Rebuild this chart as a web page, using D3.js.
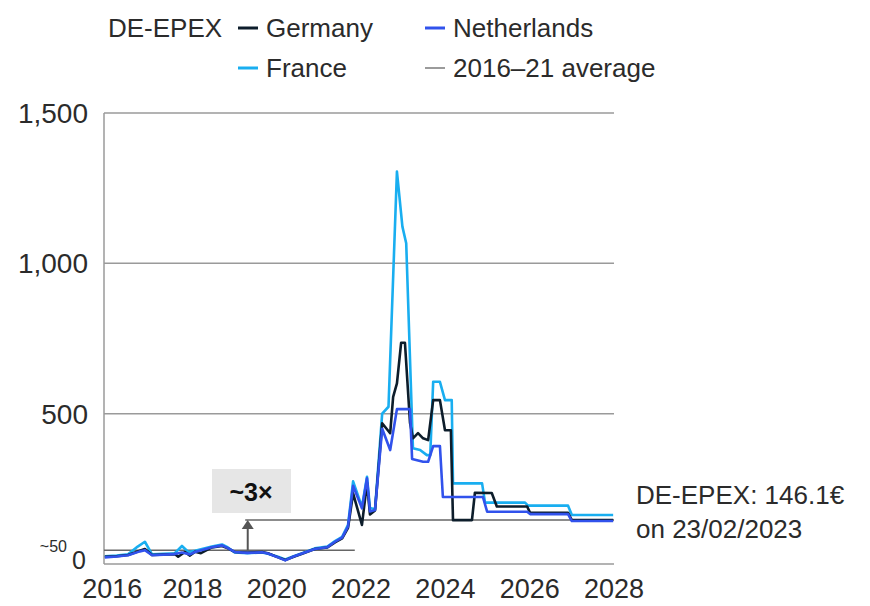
<!DOCTYPE html>
<html lang="en">
  <head>
    <meta charset="utf-8">
    <title>DE-EPEX prices</title>
    <script src="https://cdn.jsdelivr.net/npm/d3@7"></script>
    <style>
      body{ margin:0; background:#fff; }
      text{ font-family:"Liberation Sans", Arial, sans-serif; fill:#2b2b2b; }
    </style>
  </head>
  <body>
    <div id="chart"></div>
    <script type="text/javascript">
      // [year, €/MWh]
      var germany = [
        [2015.92,24],[2016.2,26],[2016.47,30],[2016.75,44],[2016.87,50],[2017.04,30],[2017.58,33],[2017.66,24],
        [2017.82,40],[2017.94,28],[2018.06,41],[2018.2,36],[2018.46,55],[2018.7,60],[2018.84,52],
        [2019.0,40],[2019.3,38],[2019.65,40],[2019.79,36],[2020.03,22],[2020.2,13],[2020.4,24],[2020.6,34],[2020.9,50],
        [2021.2,55],[2021.38,72],[2021.55,85],[2021.69,120],[2021.81,235],[2022.02,130],[2022.14,270],
        [2022.21,165],[2022.33,178],[2022.5,468],[2022.69,435],[2022.76,556],[2022.85,601],[2022.95,736],
        [2023.04,736],[2023.16,470],[2023.23,418],[2023.35,435],[2023.47,418],[2023.59,412],[2023.71,545],
        [2023.87,545],[2023.99,445],[2024.13,445],[2024.18,146],[2024.63,146],[2024.7,237],[2025.1,236],
        [2025.22,191],[2025.94,191],[2026.01,170],[2026.91,170],[2027.0,146],[2027.98,146]
      ]
      var france = [
        [2015.92,26],[2016.2,28],[2016.47,32],[2016.7,58],[2016.87,74],[2017.04,32],[2017.58,36],[2017.75,60],
        [2017.9,40],[2018.06,44],[2018.46,58],[2018.7,65],[2018.84,55],[2019.0,38],[2019.3,36],[2019.65,38],
        [2019.79,34],[2020.03,24],[2020.2,15],[2020.4,26],[2020.6,36],[2020.9,52],[2021.2,58],[2021.38,76],
        [2021.55,90],[2021.69,130],[2021.81,275],[2022.02,190],[2022.14,290],[2022.21,186],[2022.33,182],
        [2022.5,500],[2022.65,523],[2022.85,1305],[2022.98,1122],[2023.07,1067],[2023.23,385],
        [2023.4,379],[2023.56,362],[2023.64,362],[2023.71,606],[2023.87,606],[2023.99,545],[2024.15,545],
        [2024.18,268],[2024.87,268],[2024.94,204],[2025.89,204],[2025.96,194],[2026.91,194],[2027.0,163],
        [2027.98,163]
      ]
      var netherlands = [
        [2015.92,22],[2016.2,25],[2016.47,29],[2016.75,42],[2016.87,46],[2017.04,29],[2017.58,33],[2017.75,38],
        [2017.94,32],[2018.06,40],[2018.46,56],[2018.7,62],[2018.84,53],[2019.0,40],[2019.3,37],[2019.65,39],
        [2019.79,35],[2020.03,22],[2020.2,12],[2020.4,25],[2020.6,35],[2020.9,50],[2021.2,56],[2021.38,74],
        [2021.55,88],[2021.69,125],[2021.81,260],[2022.02,185],[2022.14,285],[2022.21,175],[2022.33,180],
        [2022.5,450],[2022.69,379],[2022.85,515],[2023.16,515],[2023.21,349],[2023.47,340],[2023.59,340],
        [2023.71,392],[2023.87,392],[2023.94,223],[2024.89,223],[2024.99,174],[2025.94,174],[2026.01,166],
        [2026.91,166],[2027.0,143],[2027.98,143]
      ]
      var average = 46
      var current = 146.1
      var xTicks = [2016,2018,2020,2022,2024,2026,2028]
      var yTicks = [0,500,1000,1500]
      var yTickLabels = ["0","500","1,000","1,500"]

      var colors = {germany:"#0d1d2b", france:"#19aef0", netherlands:"#3152ec", avg:"#7a7a7a"}

      var width = 870, height = 606
      var svg = d3.select("#chart").append("svg").attr("width",width).attr("height",height)

      var x = d3.scaleLinear().domain([2015.9,2028]).range([104,614])
      var y = d3.scaleLinear().domain([0,1500]).range([564,113])

      // gridlines + frame
      svg.selectAll(".grid")
        .data(yTicks)
        .enter()
        .append("line")
        .attr("x1",x(2015.9)).attr("x2",x(2028))
        .attr("y1",function(d){ return y(d) }).attr("y2",function(d){ return y(d) })
        .attr("stroke","#9a9a9a").attr("stroke-width",1.5)
      svg.append("line")
        .attr("x1",x(2015.9)).attr("x2",x(2015.9))
        .attr("y1",y(0)).attr("y2",y(1500))
        .attr("stroke","#9a9a9a").attr("stroke-width",1.5)

      // y labels
      svg.selectAll(".ylab")
        .data(yTicks)
        .enter()
        .append("text")
        .attr("x",function(d){ return d==0 ? 86 : 88 })
        .attr("y",function(d){ return d==0 ? y(d)-4 : y(d) })
        .attr("dy","0.36em")
        .attr("text-anchor","end")
        .attr("font-size",function(d){ return d==0 ? 25 : 28 })
        .text(function(d,i){ return yTickLabels[i] })
      svg.append("text").attr("x",67).attr("y",y(0)-12).attr("text-anchor","end")
        .attr("font-size",16).text("~50")

      // x labels
      svg.selectAll(".xlab")
        .data(xTicks)
        .enter()
        .append("text")
        .attr("x",function(d,i){ return i==0 ? x(d)+4 : x(d) })
        .attr("y",598)
        .attr("text-anchor","middle")
        .attr("font-size",27)
        .text(function(d){ return d })

      // reference lines
      svg.append("line")
        .attr("x1",x(2015.9)).attr("x2",x(2021.85))
        .attr("y1",y(average)).attr("y2",y(average))
        .attr("stroke","#666").attr("stroke-width",1.5)
      svg.append("line")
        .attr("x1",x(2019.25)).attr("x2",x(2028))
        .attr("y1",y(current)).attr("y2",y(current))
        .attr("stroke","#666").attr("stroke-width",1.5)

      // series
      var line = d3.line()
        .x(function(d){ return x(d[0]) })
        .y(function(d){ return y(d[1]) })
      var series = [["france",france],["germany",germany],["netherlands",netherlands]]
      svg.selectAll(".series")
        .data(series)
        .enter()
        .append("path")
        .attr("d",function(d){ return line(d[1]) })
        .attr("fill","none")
        .attr("stroke",function(d){ return colors[d[0]] })
        .attr("stroke-width",2.6)
        .attr("stroke-linejoin","round")

      // ~3x arrow + box
      var ax = x(2019.31)
      svg.append("line")
        .attr("x1",ax).attr("x2",ax)
        .attr("y1",y(average)).attr("y2",y(current)+7)
        .attr("stroke","#555").attr("stroke-width",2)
      svg.append("path")
        .attr("d","M"+ax+","+y(current)+" l-6,9 l12,0 z")
        .attr("fill","#555")
      svg.append("rect")
        .attr("x",212).attr("y",469).attr("width",79).attr("height",44)
        .attr("fill","#e6e6e6")
      svg.append("text").attr("x",251).attr("y",501).attr("text-anchor","middle")
        .attr("font-size",25).attr("font-weight","bold").style("fill","#111").text("~3\u00d7")

      // right annotation
      svg.append("text").attr("x",636).attr("y",504).attr("font-size",26).text("DE-EPEX: 146.1\u20ac")
      svg.append("text").attr("x",636).attr("y",538).attr("font-size",26).text("on 23/02/2023")

      // legend
      svg.append("text").attr("x",108).attr("y",37).attr("font-size",26).text("DE-EPEX")
      var legend = [
        {name:"Germany", c:colors.germany, lx:238, ly:28, w:3},
        {name:"Netherlands", c:colors.netherlands, lx:425, ly:28, w:3},
        {name:"France", c:colors.france, lx:238, ly:68, w:3},
        {name:"2016\u201321 average", c:colors.avg, lx:425, ly:68, w:1.5}
      ]
      var lg = svg.selectAll(".lg").data(legend).enter().append("g")
      lg.append("line")
        .attr("x1",function(d){ return d.lx }).attr("x2",function(d){ return d.lx+20 })
        .attr("y1",function(d){ return d.ly }).attr("y2",function(d){ return d.ly })
        .attr("stroke",function(d){ return d.c }).attr("stroke-width",function(d){ return d.w })
      lg.append("text")
        .attr("x",function(d){ return d.lx+28 })
        .attr("y",function(d){ return d.ly+9 })
        .attr("font-size",26)
        .text(function(d){ return d.name })
    </script>
  </body>
</html>
